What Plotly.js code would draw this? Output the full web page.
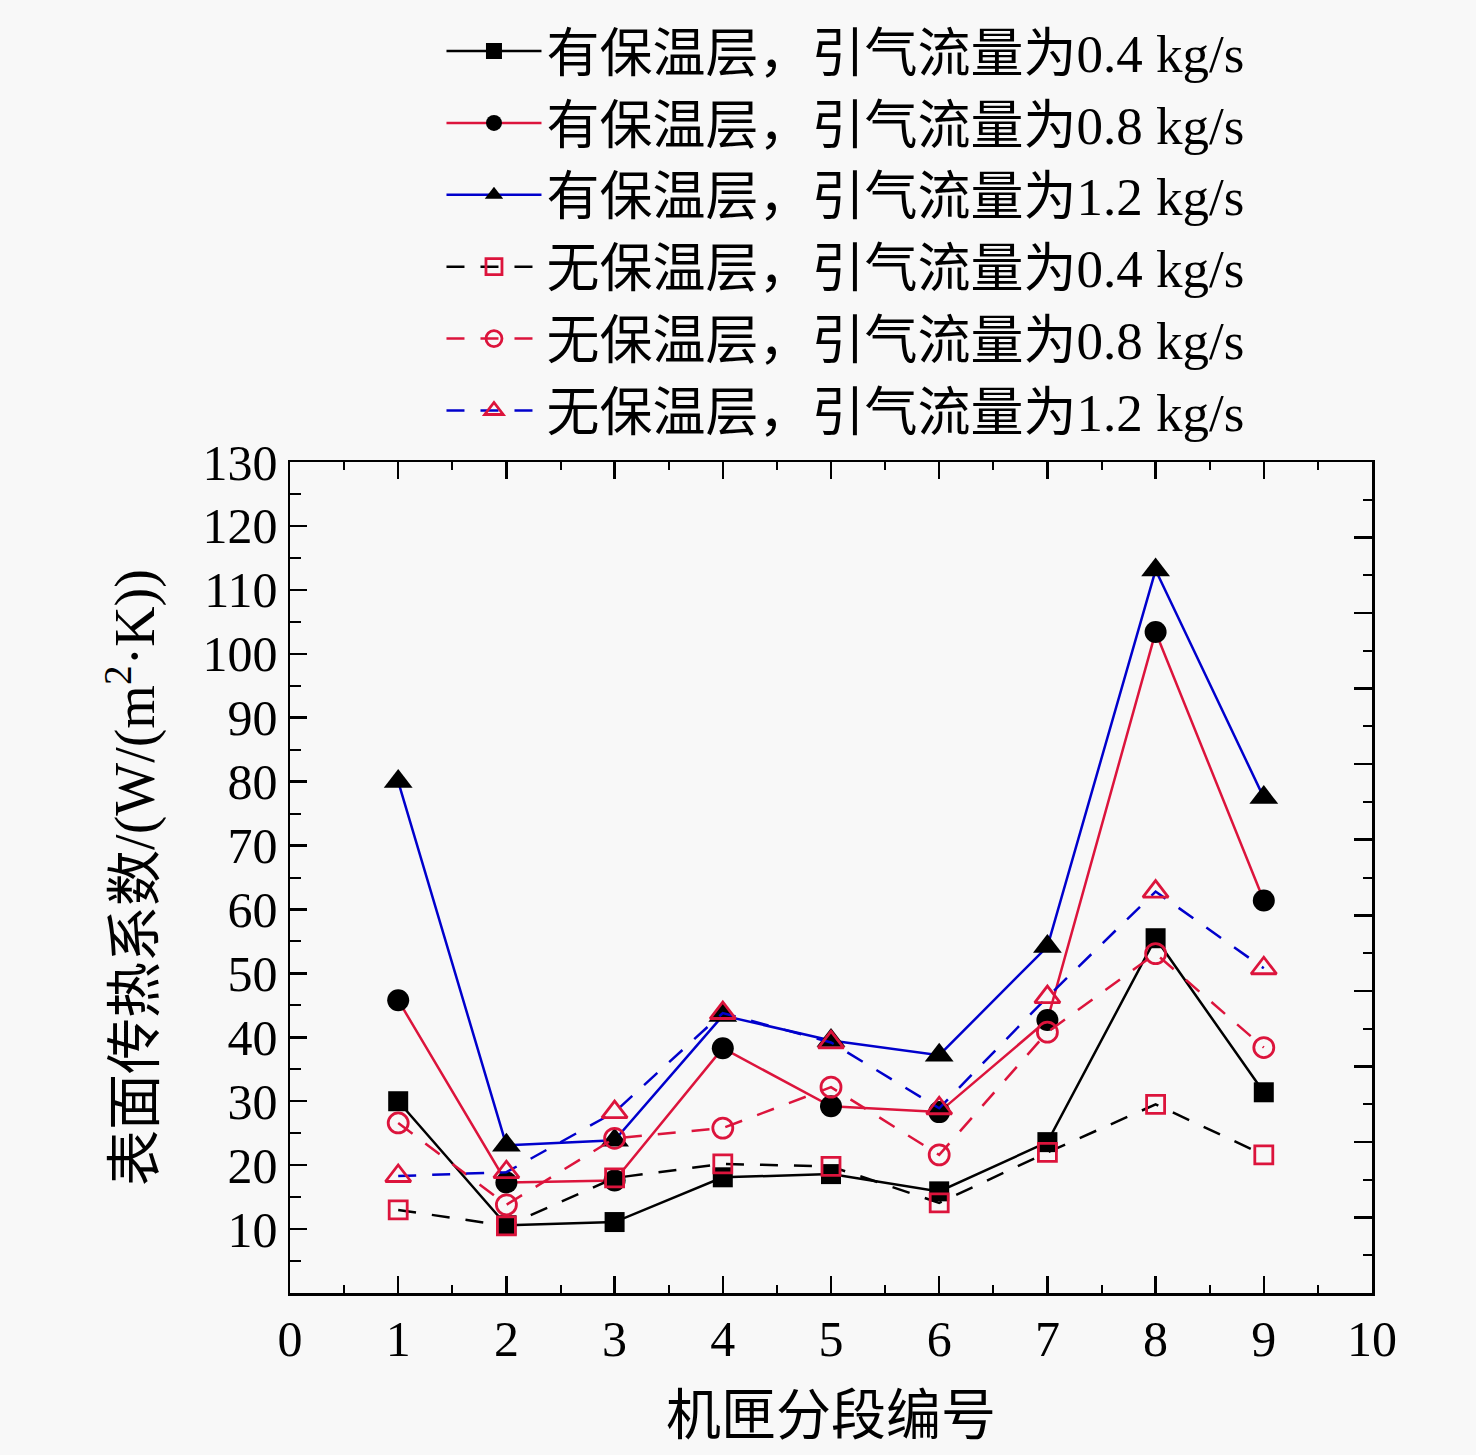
<!DOCTYPE html>
<html>
<head>
<meta charset="utf-8">
<script src="https://cdn.plot.ly/plotly-3.0.1.min.js"></script>
<style>
  html, body { margin: 0; padding: 0; background: #f8f8f8; }
  #chart { width: 1476px; height: 1455px; }
</style>
</head>
<body>
<div id="chart"></div>
<script>
// segment numbers along the casing
const segments = [1, 2, 3, 4, 5, 6, 7, 8, 9];

// with insulation
const ins04 = [30.0, 10.6, 11.1, 18.1, 18.6, 15.9, 23.6, 55.5, 31.4];
const ins08 = [45.8, 17.3, 17.6, 38.3, 29.2, 28.3, 42.7, 103.4, 61.4];
const ins12 = [80.0, 23.1, 23.9, 43.4, 39.5, 37.2, 54.2, 113.1, 77.5];

// without insulation
const bare04 = [13.0, 10.5, 18.0, 20.2, 19.8, 14.1, 22.0, 29.5, 21.6];
const bare08 = [26.6, 13.8, 24.2, 25.8, 32.2, 21.6, 40.8, 53.1, 38.4];
const bare12 = [18.3, 18.9, 28.3, 43.8, 39.2, 28.9, 46.3, 62.8, 50.8];

const names = [
    '有保温层，引气流量为0.4 kg/s',
    '有保温层，引气流量为0.8 kg/s',
    '有保温层，引气流量为1.2 kg/s',
    '无保温层，引气流量为0.4 kg/s',
    '无保温层，引气流量为0.8 kg/s',
    '无保温层，引气流量为1.2 kg/s'
];

const yTicks = [10, 20, 30, 40, 50, 60, 70, 80, 90, 100, 110, 120, 130];
const xTicks = [0, 1, 2, 3, 4, 5, 6, 7, 8, 9, 10];

const FONT = "'Liberation Serif', 'Noto Sans CJK SC', serif";
const CRIMSON = '#dc143c';
const BLUE = '#0000cc';
const DASH = '18px,16px';

function solidTrace(y, name, lineColor, symbol, size, i) {
    return {
        x: segments, y: y, name: name, type: 'scatter', mode: 'lines+markers',
        legendgroup: 'g' + i,
        line: { color: lineColor, width: 2.5 },
        marker: { symbol: symbol, size: size, color: '#000', line: { width: 0 } }
    };
}

function openTrace(y, name, lineColor, symbol, size, i) {
    return {
        x: segments, y: y, name: name, type: 'scatter', mode: 'lines+markers',
        legendgroup: 'g' + i,
        line: { color: lineColor, width: 2.5, dash: DASH },
        marker: { symbol: symbol, size: size, color: CRIMSON, line: { width: 2.8, color: CRIMSON } }
    };
}

var data = [
    solidTrace(ins04, names[0], '#000', 'square', 20, 0),
    solidTrace(ins08, names[1], CRIMSON, 'circle', 22, 1),
    solidTrace(ins12, names[2], BLUE, 'triangle-up', 25, 2),
    openTrace(bare04, names[3], '#000', 'square-open', 18, 3),
    openTrace(bare08, names[4], CRIMSON, 'circle-open', 20, 4),
    openTrace(bare12, names[5], BLUE, 'triangle-up-open', 22, 5),
    // right-hand frame ticks
    { x: [null], y: [null], yaxis: 'y2', showlegend: false, hoverinfo: 'skip' }
];

const layout = {
    width: 1476,
    height: 1455,
    paper_bgcolor: '#f8f8f8',
    plot_bgcolor: '#f8f8f8',
    font: { family: FONT, color: '#000', size: 50 },
    margin: { l: 290, r: 104, t: 461, b: 162, pad: 0 },
    showlegend: true,
    legend: {
        x: 0.14, y: 1.542, xanchor: 'left', yanchor: 'top',
        bgcolor: 'rgba(0,0,0,0)',
        font: { family: FONT, size: 53 },
        itemwidth: 95,
        tracegroupgap: 2,
        traceorder: 'normal'
    },
    xaxis: {
        range: [0, 10],
        tickvals: xTicks,
        ticks: 'inside', ticklen: 17, tickwidth: 2.5, tickcolor: '#000',
        minor: { dtick: 0.5, ticks: 'inside', ticklen: 8, tickwidth: 2, tickcolor: '#000' },
        showline: true, linewidth: 2.5, linecolor: '#000', mirror: 'ticks',
        showgrid: false, zeroline: false,
        tickfont: { family: FONT, size: 50 },
        title: { text: '机匣分段编号', font: { family: FONT, size: 55 }, standoff: 30 }
    },
    yaxis: {
        range: [0, 130],
        tickvals: yTicks,
        ticks: 'inside', ticklen: 17, tickwidth: 2.5, tickcolor: '#000',
        minor: { dtick: 5, ticks: 'inside', ticklen: 11, tickwidth: 2, tickcolor: '#000' },
        showline: true, linewidth: 2.5, linecolor: '#000', mirror: true,
        showgrid: false, zeroline: false,
        tickfont: { family: FONT, size: 50 },
        title: { text: '表面传热系数/(W/(m<sup>2</sup>·K))', font: { family: FONT, size: 56 }, standoff: 30 }
    },
    yaxis2: {
        overlaying: 'y', side: 'right', range: [0, 11], dtick: 1,
        ticks: 'inside', ticklen: 18, tickwidth: 2.5, tickcolor: '#000',
        minor: { dtick: 0.5, ticks: 'inside', ticklen: 9, tickwidth: 2, tickcolor: '#000' },
        showticklabels: false, showgrid: false, zeroline: false,
        showline: true, linewidth: 2.5, linecolor: '#000'
    }
};

Plotly.newPlot('chart', data, layout, { displayModeBar: false, staticPlot: true });
</script>
</body>
</html>
